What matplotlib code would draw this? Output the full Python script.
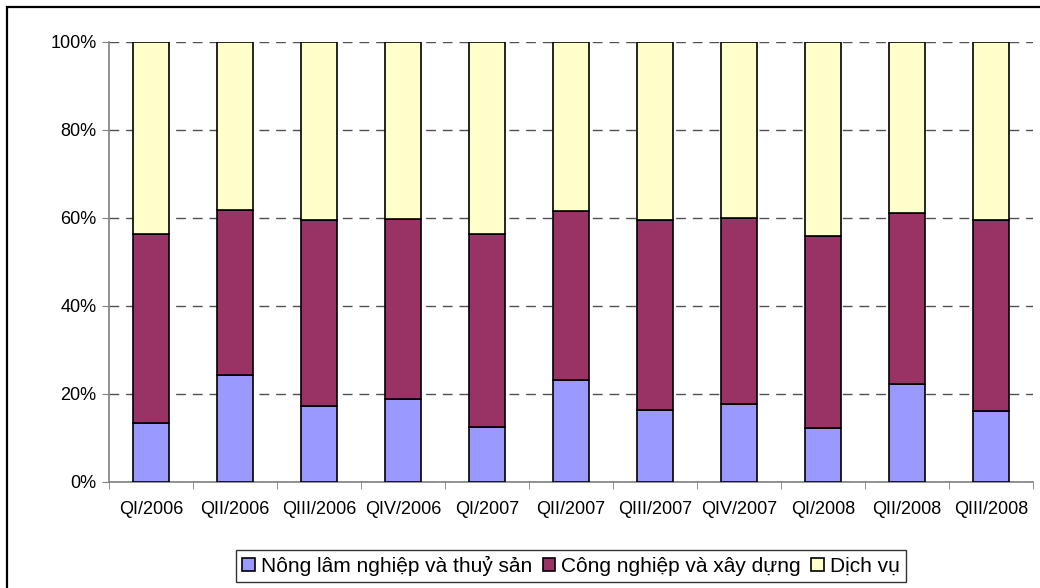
import matplotlib.pyplot as plt
import matplotlib.patches as mpatches
import numpy as np

# --- Data: GDP structure by sector, share in % ---
quarters = ["QI/2006", "QII/2006", "QIII/2006", "QIV/2006", "QI/2007", "QII/2007",
            "QIII/2007", "QIV/2007", "QI/2008", "QII/2008", "QIII/2008"]
agri = [13.3, 24.3, 17.3, 18.9, 12.6, 23.2, 16.4, 17.7, 12.2, 22.3, 16.1]
industry = [43.1, 37.6, 42.2, 40.8, 43.8, 38.3, 43.1, 42.2, 43.8, 38.9, 43.4]
services = [43.6, 38.1, 40.5, 40.3, 43.6, 38.5, 40.5, 40.1, 44.0, 38.8, 40.5]
series_names = ["Nông lâm nghiệp và thuỷ sản", "Công nghiệp và xây dựng", "Dịch vụ"]
colors = ["#9999FF", "#993366", "#FFFFCC"]

plt.rcParams['font.family'] = ['Liberation Sans', 'DejaVu Sans']

W, H = 1040, 588
fig = plt.figure(figsize=(W / 100, H / 100), dpi=100)
ax = fig.add_axes([109 / W, 1 - 482 / H, (1033 - 109) / W, (482 - 42) / H])

# outer chart frame (only top/left visible)
fig.add_artist(mpatches.Rectangle((7 / W, -0.1), 1.2, 1 - 7 / H + 0.1,
                                  transform=fig.transFigure, fill=False,
                                  edgecolor="black", lw=1.6))

x = np.arange(len(quarters))
bottom = np.zeros(len(quarters))
for vals, name, c in zip([agri, industry, services], series_names, colors):
    ax.bar(x, vals, width=0.42, bottom=bottom, color=c, edgecolor="black",
           linewidth=1.2, label=name, zorder=3)
    bottom += np.array(vals)

ax.set_xlim(-0.5, len(quarters) - 0.5)
ax.set_ylim(0, 100)
ax.set_yticks(np.arange(0, 101, 20))
ax.set_yticklabels([f"{v}%" for v in range(0, 101, 20)])
ax.set_xticks(x)
ax.set_xticklabels(quarters)
ax.set_xticks(np.arange(-0.5, len(quarters), 1), minor=True)
ax.tick_params(axis="x", which="major", length=0, pad=14, labelsize=13)
ax.tick_params(axis="x", which="minor", length=5, color="#808080")
ax.tick_params(axis="y", length=5, color="#808080", labelsize=13, pad=4)

ax.yaxis.grid(True, linestyle=(0, (7, 5)), color="#505050", linewidth=1, zorder=0)
for s in ["top", "right"]:
    ax.spines[s].set_visible(False)
for s in ["left", "bottom"]:
    ax.spines[s].set_color("#808080")
    ax.spines[s].set_linewidth(1.2)

handles = [mpatches.Patch(facecolor=c, edgecolor="black", linewidth=1.2) for c in colors]
leg = fig.legend(handles, series_names, loc="center", ncol=3,
                 bbox_to_anchor=(571 / W, 1 - 566 / H), fontsize=15,
                 frameon=True, fancybox=False, edgecolor="black",
                 handlelength=0.6, handleheight=0.6, handletextpad=0.3,
                 columnspacing=0.5, borderpad=0.3, borderaxespad=0)
leg.get_frame().set_linewidth(1)

fig.savefig("out.png", dpi=100)
